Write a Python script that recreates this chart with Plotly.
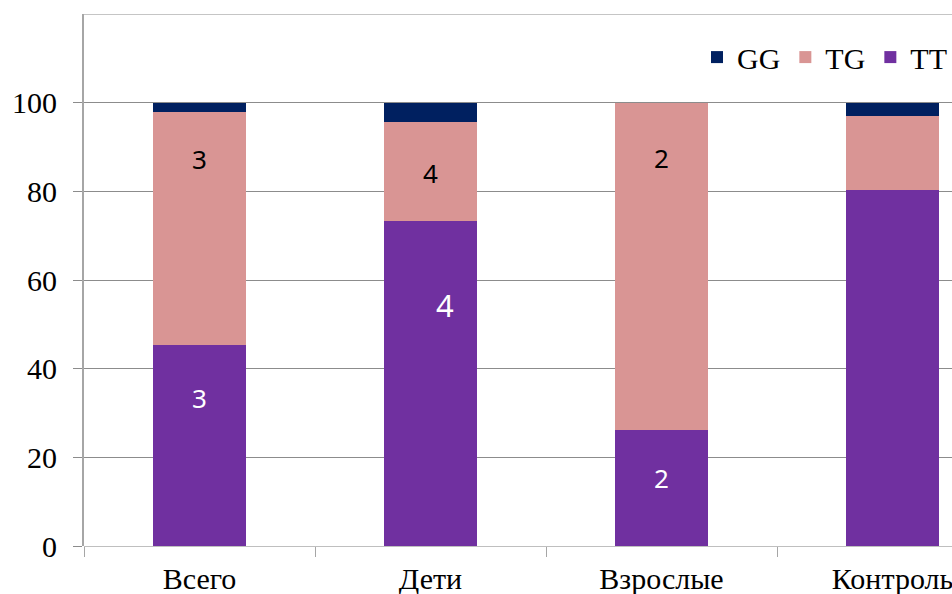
import plotly.graph_objects as go

# Genotype distribution (%) by group
categories = ["Всего", "Дети", "Взрослые", "Контроль"]
tt_values = [45.3, 73.4, 26.1, 80.4]
tg_values = [52.7, 22.2, 73.9, 16.7]
gg_values = [2.0, 4.4, 0.0, 2.9]

# Counts printed inside the segments: (category, y-position, text)
tg_labels = [("Всего", 87.4, "3"), ("Дети", 84.2, "4"), ("Взрослые", 87.6, "2")]
tt_labels = [("Всего", 33.3, "3"), ("Дети", 54.3, "4"), ("Взрослые", 15.3, "2")]

y_ticks = [0, 20, 40, 60, 80, 100]

colors = {"TT": "#7030A0", "TG": "#D99594", "GG": "#002060"}

fig = go.Figure()
for name, vals in [("TT", tt_values), ("TG", tg_values), ("GG", gg_values)]:
    fig.add_trace(go.Bar(
        x=categories, y=vals, name=name,
        marker=dict(color=colors[name], line=dict(width=0)),
        width=0.4,
    ))

annotations = []
for cat, y, txt in tg_labels:
    annotations.append(dict(x=cat, y=y, text=txt, showarrow=False,
                            font=dict(family="Noto Sans", size=26, color="#000000")))
for cat, y, txt in tt_labels:
    size = 31 if txt == "4" else 26
    shift = 14 if txt == "4" else 0
    annotations.append(dict(x=cat, y=y, text=txt, showarrow=False, xshift=shift,
                            font=dict(family="Noto Sans", size=size, color="#FFFFFF")))

serif = "Liberation Serif"

fig.update_layout(
    width=952, height=594,
    margin=dict(l=84, r=0, t=14, b=48),
    paper_bgcolor="white", plot_bgcolor="white",
    barmode="stack",
    showlegend=True,
    legend=dict(
        orientation="h", x=1.0, y=0.919, xanchor="right", yanchor="middle",
        traceorder="reversed",
        font=dict(family=serif, size=30, color="#000000"),
        bgcolor="rgba(0,0,0,0)",
        borderwidth=0,
    ),
    annotations=annotations,
    xaxis=dict(
        type="category",
        range=[-0.5, 3.2576],
        showgrid=False,
        showline=False,
        ticks="outside", tickson="boundaries", ticklen=10,
        tickcolor="#A6A6A6", tickwidth=1,
        ticklabelstandoff=12,
        tickfont=dict(family=serif, size=30, color="#000000"),
        fixedrange=True,
    ),
    yaxis=dict(
        range=[0, 120],
        tickvals=y_ticks,
        showgrid=True, gridcolor="#8C8C8C", gridwidth=1,
        zeroline=True, zerolinecolor="#BFBFBF", zerolinewidth=1,
        showline=True, linecolor="#A6A6A6", linewidth=2,
        ticks="outside", ticklen=9, tickcolor="#8C8C8C",
        ticklabelstandoff=10,
        tickfont=dict(family=serif, size=30, color="#000000"),
        fixedrange=True,
    ),
    shapes=[dict(type="line", xref="paper", yref="y", x0=0, x1=1, y0=120, y1=120,
                 line=dict(color="#8C8C8C", width=1))],
)

fig.write_html("out.html")
